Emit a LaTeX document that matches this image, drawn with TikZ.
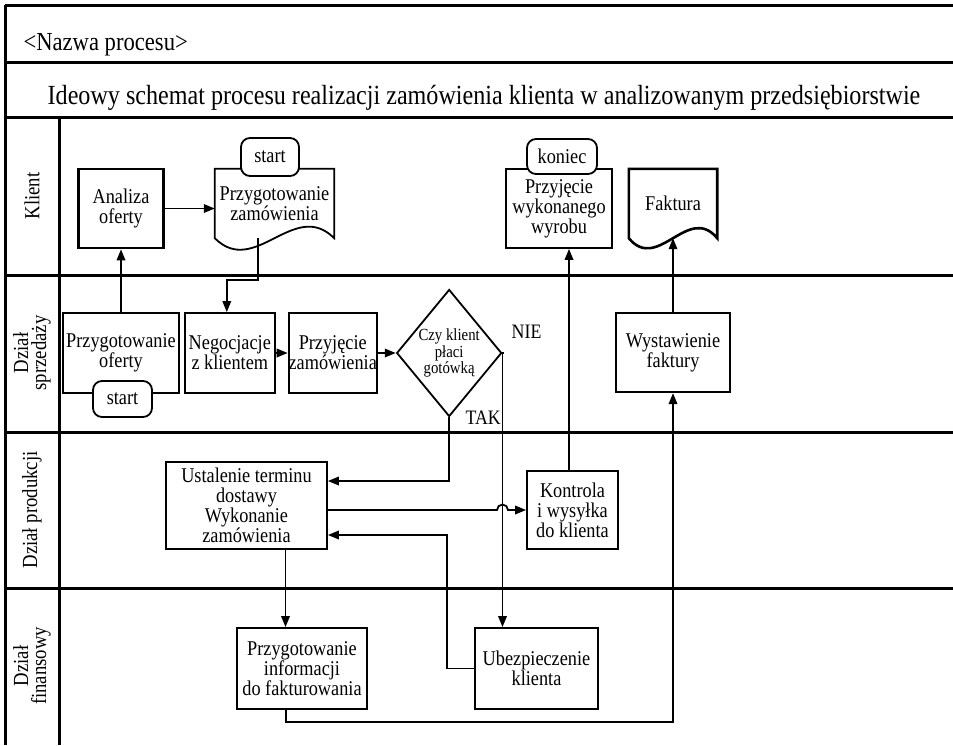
\documentclass[tikz,border=0pt]{standalone}
\usepackage{fontspec}
\setmainfont[FakeStretch=0.87]{Liberation Serif}
\usetikzlibrary{arrows.meta,positioning,shapes.geometric}

\begin{document}
\begin{tikzpicture}[
    x=1pt, y=-1pt,
    rama/.style={line width=3pt},
    blok/.style={draw, line width=1.8pt, inner sep=0pt, align=center, font=\fontsize{21}{20}\selectfont},
    dok/.style={inner sep=0pt, align=center, font=\fontsize{21}{20}\selectfont},
    owal/.style={draw, fill=white, line width=1.8pt, rounded corners=9pt, minimum width=58pt, minimum height=38pt, inner sep=0pt, font=\fontsize{21}{20}\selectfont},
    romb/.style={draw, diamond, line width=1.8pt, minimum width=105pt, minimum height=127pt, inner sep=-5pt, align=center, font=\fontsize{17}{16.5}\selectfont},
    tor/.style={rotate=90, align=center, font=\fontsize{21.5}{18}\selectfont},
    etyk/.style={font=\fontsize{20.5}{22}\selectfont},
    strz/.style={-{Triangle[length=11pt,width=8.5pt]}, line width=1.8pt}
  ]
    \useasboundingbox (0,0) rectangle (953,745);
    % ramka i tory
    \foreach \y in {5,62,117,275,432,588} \draw[rama] (5,\y) -- (953,\y);
    \draw[rama] (5,5) -- (5,745); \draw[rama] (59,117) -- (59,745);
    \node[anchor=base west, font=\fontsize{26}{28}\selectfont] (np) at (20,50) {<Nazwa procesu>};
    \node[anchor=base, font=\fontsize{27.7}{30}\selectfont] (ti) at (484,104) {Ideowy schemat procesu realizacji zamówienia klienta w analizowanym przedsiębiorstwie};
    \node[tor] (lk) at (32,196) {Klient};
    \node[tor] (ls) at (32,353) {Dział\\sprzedaży};
    \node[tor] (lp) at (32,510) {Dział produkcji};
    \node[tor] (lf) at (32,666) {Dział\\finansowy};

    % klient
    \node[blok, line width=2.6pt, minimum width=85pt, minimum height=79pt] (ao) at (121,208.5) {Analiza\\oferty};
    \node[dok, minimum width=119pt, minimum height=69pt] (pz) at (274.5,203.5) {Przygotowanie\\zamówienia};
    \draw[line width=1.8pt] (pz.north west) -- (pz.south west) .. controls +(40,40) and +(-40,-40) .. (pz.south east) -- (pz.north east) -- cycle;
    \node[blok, minimum width=106pt, minimum height=79pt] (pw) at (559,208.5) {Przyjęcie\\wykonanego\\wyrobu};
    \node[dok, minimum width=88pt, minimum height=69pt] (fa) at (673,203.5) {Faktura};
    \draw[line width=2.6pt] (fa.north west) -- (fa.south west) .. controls +(29,35) and +(-29,-35) .. (fa.south east) -- (fa.north east) -- cycle;

    % dzial sprzedazy
    \node[blok, minimum width=116pt, minimum height=80pt] (po) at (121,353) {Przygotowanie\\oferty};
    \node[blok, minimum width=90pt, minimum height=80pt, right=4pt of po] (nk) {Negocjacje\\z klientem};
    \node[blok, minimum width=85pt, minimum height=80pt, right=12pt of nk] (pr) {Przyjęcie\\zamówienia};
    \node[romb, right=18pt of pr] (ck) {Czy klient\\płaci\\gotówką};
    \node[etyk] (nie) at ([xshift=24pt,yshift=21pt]ck.east) {NIE};
    \node[etyk] (tak) at ([xshift=34pt]ck.south) {TAK};
    \node[blok, line width=2.2pt, minimum width=114pt, minimum height=79pt] (wf) at (673,352.5) {Wystawienie\\faktury};

    % dzial produkcji
    \node[blok, minimum width=161pt, minimum height=87pt] (ut) at (246.5,505.5) {Ustalenie terminu\\dostawy\\Wykonanie\\zamówienia};
    \node[blok, minimum width=91pt, minimum height=78pt] (kw) at (572.5,510) {Kontrola\\i wysyłka\\do klienta};

    % dzial finansowy
    \node[blok, minimum width=130pt, minimum height=81pt] (pi) at (302,668.5) {Przygotowanie\\informacji\\do fakturowania};
    \node[blok, minimum width=123pt, minimum height=81pt] (uk) at (536.5,668.5) {Ubezpieczenie\\klienta};

    % start / koniec
    \node[owal] (s1) at (270,157) {start};
    \node[owal, minimum width=70pt, minimum height=35pt] (kn) at (562,156.5) {koniec};
    \node[owal, minimum width=59pt, minimum height=36pt] (s2) at (122.5,399) {start};

    % przeplyw
    \draw[strz] (po.north) -- (ao.south); \draw[strz] (ao.east) -- (ao.east -| pz.west);
    \draw[strz] ([xshift=-16.5pt]pz.south) |- ([xshift=-3pt,yshift=32pt]nk.north) -- ([xshift=-3pt]nk.north);
    \draw[strz] (nk) -- (pr); \draw[strz] (pr) -- (ck);
    \draw[strz] (ck.south) |- ([yshift=24.5pt]ut.east);
    \draw[strz] (ck.east) -| ([xshift=-34pt]uk.north);
    \coordinate (hop) at ([xshift=-34pt]uk.north |- kw.west);
    \draw[strz] (ut.east |- kw.west) -- ([xshift=-5.5pt]hop) arc[start angle=180, end angle=0, radius=5.5pt] -- (kw.west);
    \draw[strz] ([xshift=-3.5pt]kw.north) -- ([xshift=-3.5pt]kw.north |- pw.south);
    \draw[strz] ([xshift=39pt]ut.south) -- ([xshift=39pt]ut.south |- pi.north);
    \draw[strz] (uk.west) -- ++(-27,0) |- ([yshift=-29.5pt]ut.east);
    \draw[strz] ([xshift=-16pt]pi.south) -- ++(0,12) -| (wf.south);
    \draw[strz] (wf.north) -- (fa.south);
  \end{tikzpicture}
\end{document}
